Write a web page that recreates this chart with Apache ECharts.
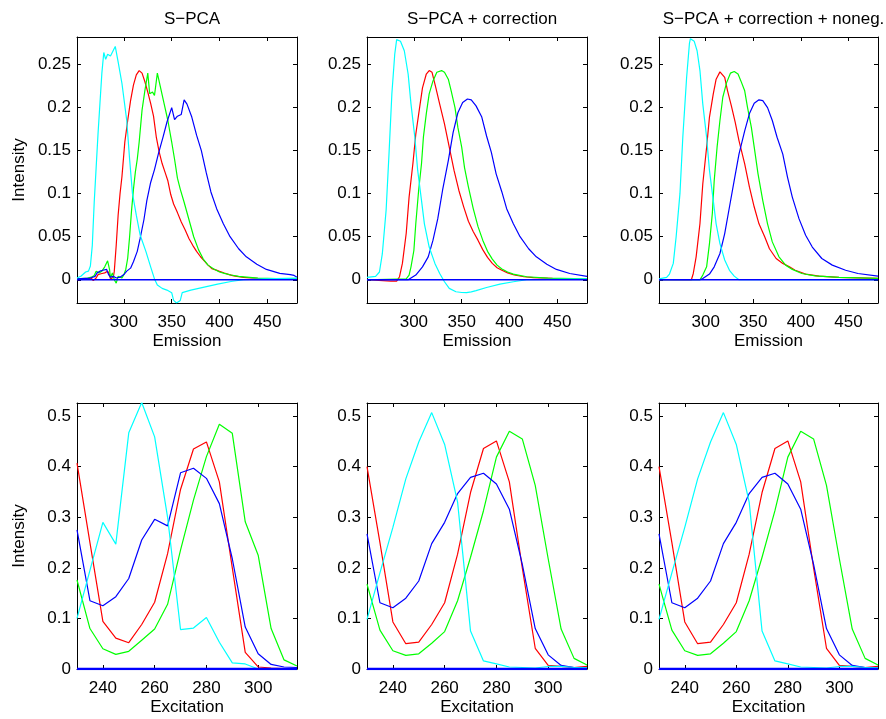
<!DOCTYPE html>
<html><head><meta charset="utf-8">
<script src="https://cdn.jsdelivr.net/npm/echarts@6/dist/echarts.min.js"></script>
<style>html,body{margin:0;padding:0;background:#fff}#c{width:886px;height:719px}</style>
</head><body><div id="c"></div>
<script>
const titles = ['S\u2212PCA', 'S\u2212PCA + correction', 'S\u2212PCA + correction + noneg.'];
const emRange = [251, 481];
const emYRange = [-0.027, 0.282];
const exRange = [230, 315];
const exYRange = [0, 0.526];
const emXTicks = [300, 350, 400, 450];
const emYTicks = [0, 0.05, 0.1, 0.15, 0.2, 0.25];
const exXTicks = [240, 260, 280, 300];
const exYTicks = [0, 0.1, 0.2, 0.3, 0.4, 0.5];

// Emission, S-PCA
const em1Red = [[251,0],[262,0.001],[266,0.002],[268,-0.001],[269,-0.003],[271,0.002],[273,0.006],[276,0.007],[280,0.008],[283,0.010],[285,0.006],[286,0.001],[288,0.001],[289,0.003],[290,0.01],[292,0.04],[294,0.075],[296,0.1],[298,0.12],[301,0.16],[304,0.185],[307,0.208],[310,0.226],[313,0.238],[316,0.243],[319,0.24],[322,0.23],[325,0.218],[328,0.205],[331,0.19],[334,0.165],[337,0.148],[340,0.135],[343,0.125],[346,0.115],[349,0.099],[352,0.088],[356,0.078],[360,0.067],[364,0.058],[368,0.048],[372,0.04],[376,0.033],[380,0.027],[384,0.022],[388,0.017],[392,0.013],[396,0.0115],[400,0.0098],[405,0.0078],[410,0.006],[415,0.0046],[425,0.0028],[440,0.0015],[460,0.001],[481,0.0005]];
const em1Green = [[251,0.001],[262,0.002],[266,0.003],[269,0.005],[271,0.01],[274,0.008],[277,0.010],[280,0.015],[283,0.022],[285,0.012],[286,0.002],[288,0.008],[290,0.0],[292,-0.004],[294,0.004],[296,0.005],[298,0.002],[300,0.006],[302,0.012],[304,0.025],[306,0.05],[308,0.08],[310,0.105],[312,0.125],[314,0.14],[316,0.16],[319,0.197],[322,0.22],[325,0.24],[327,0.216],[330,0.218],[332,0.214],[335,0.24],[338,0.225],[342,0.205],[346,0.185],[350,0.16],[353,0.14],[356,0.118],[359,0.105],[363,0.09],[368,0.07],[373,0.05],[378,0.035],[383,0.024],[388,0.017],[394,0.0125],[400,0.009],[405,0.0075],[412,0.0055],[420,0.004],[440,0.0018],[460,0.0012],[481,0.001]];
const em1Blue = [[251,0.001],[265,0.002],[270,0.004],[272,0.008],[275,0.010],[278,0.011],[282,0.012],[284,0.006],[286,0.003],[289,0.004],[292,0.002],[296,0.003],[300,0.006],[303,0.01],[307,0.0135],[310,0.021],[314,0.033],[317,0.048],[321,0.07],[324,0.092],[328,0.113],[332,0.128],[336,0.146],[341,0.166],[345,0.183],[350,0.2],[353,0.186],[356,0.19],[360,0.192],[363,0.209],[366,0.204],[371,0.189],[376,0.168],[381,0.15],[386,0.125],[391,0.102],[397,0.0826],[404,0.065],[411,0.05],[420,0.036],[428,0.0266],[439,0.018],[449,0.012],[463,0.0075],[474,0.006],[478,0.005],[481,0.003]];
const em1Cyan = [[251,0.002],[255,0.004],[257,0.002],[260,0.009],[263,0.010],[265,0.016],[267,0.04],[269,0.09],[271,0.13],[273,0.17],[275,0.205],[277,0.24],[279,0.264],[281,0.256],[283,0.262],[286,0.26],[288,0.258],[291,0.271],[294,0.253],[298,0.228],[303,0.185],[306,0.14],[309,0.1],[313,0.075],[317,0.052],[323,0.033],[328,0.015],[332,0.001],[335,-0.006],[340,-0.010],[345,-0.012],[350,-0.015],[352,-0.024],[355,-0.027],[357,-0.027],[359,-0.024],[361,-0.015],[370,-0.012],[384,-0.0085],[398,-0.005],[412,-0.002],[425,0],[446,0.001],[481,0.002]];

// Emission, S-PCA + correction
const em2Red = [[251,0],[276,-0.0015],[282,-0.0015],[285,0.0035],[288,0.019],[292,0.054],[295,0.096],[299,0.135],[302,0.169],[306,0.2],[309,0.223],[313,0.239],[316,0.243],[319,0.241],[323,0.223],[327,0.204],[332,0.181],[337,0.154],[342,0.127],[347,0.104],[352,0.085],[357,0.068],[362,0.056],[367,0.046],[372,0.035],[377,0.026],[382,0.019],[387,0.014],[392,0.011],[398,0.008],[405,0.0055],[415,0.0035],[425,0.0025],[445,0.0015],[481,0.001]];
const em2Green = [[251,0],[292,0.001],[295,0.0054],[297,0.015],[300,0.034],[302,0.065],[305,0.104],[308,0.135],[310,0.166],[313,0.193],[316,0.216],[320,0.231],[324,0.241],[329,0.243],[332,0.241],[336,0.233],[339,0.2195],[343,0.2],[346,0.177],[350,0.154],[353,0.13],[357,0.108],[362,0.083],[367,0.062],[372,0.046],[377,0.033],[382,0.024],[387,0.017],[392,0.0125],[398,0.009],[404,0.0065],[418,0.0035],[440,0.002],[481,0.001]];
const em2Blue = [[251,0],[294,0],[302,0.0054],[309,0.015],[315,0.0266],[320,0.046],[325,0.071],[330,0.104],[336,0.1385],[341,0.171],[346,0.194],[351,0.206],[356,0.21],[360,0.209],[365,0.202],[371,0.189],[376,0.167],[381,0.148],[386,0.123],[392,0.102],[397,0.0826],[404,0.065],[411,0.05],[420,0.036],[428,0.0266],[439,0.018],[449,0.012],[463,0.0073],[481,0.004]];
const em2Cyan = [[251,0.0027],[260,0.004],[264,0.009],[267,0.03],[271,0.081],[274,0.146],[277,0.216],[280,0.262],[282,0.279],[284,0.279],[286,0.277],[288,0.275],[290,0.266],[294,0.239],[297,0.204],[301,0.1655],[304,0.127],[308,0.092],[311,0.065],[316,0.038],[322,0.019],[327,0.0073],[332,-0.0023],[337,-0.01],[344,-0.0139],[350,-0.0148],[355,-0.015],[360,-0.014],[365,-0.0127],[376,-0.009],[390,-0.005],[404,-0.0023],[418,0],[440,0.0005],[481,0.001]];

// Emission, S-PCA + correction + noneg.
const em3Red = [[251,0],[285,0],[287,0.0073],[290,0.0266],[294,0.065],[297,0.1115],[301,0.154],[304,0.189],[308,0.216],[311,0.233],[315,0.2415],[317,0.2415],[320,0.235],[323,0.2195],[327,0.202],[331,0.183],[335,0.1617],[341,0.1346],[346,0.1076],[351,0.0845],[356,0.065],[362,0.05],[367,0.036],[374,0.0247],[381,0.019],[388,0.015],[394,0.011],[405,0.0066],[419,0.0042],[440,0.0027],[481,0.0015]];
const em3Green = [[251,0],[294,0],[297,0.0054],[301,0.015],[304,0.042],[307,0.077],[309,0.1155],[312,0.154],[315,0.185],[318,0.212],[322,0.229],[326,0.24],[330,0.242],[334,0.239],[337,0.231],[341,0.2195],[344,0.2],[348,0.177],[351,0.154],[355,0.123],[360,0.092],[365,0.065],[370,0.044],[377,0.0266],[384,0.017],[391,0.012],[401,0.0073],[415,0.0046],[440,0.0027],[481,0.0015]];
const em3Blue = [[251,0],[294,0],[297,0.0015],[304,0.0066],[309,0.015],[315,0.0305],[320,0.0536],[325,0.0845],[330,0.1155],[335,0.146],[341,0.173],[346,0.193],[351,0.205],[356,0.209],[360,0.208],[365,0.2],[370,0.185],[375,0.1655],[381,0.146],[386,0.119],[391,0.096],[398,0.071],[405,0.0517],[412,0.038],[422,0.0247],[433,0.017],[447,0.011],[460,0.0073],[481,0.0042]];
const em3Cyan = [[251,0.001],[259,0.0027],[262,0.0066],[266,0.019],[269,0.05],[273,0.1],[276,0.1655],[280,0.235],[283,0.275],[284,0.28],[286,0.279],[288,0.277],[291,0.266],[294,0.243],[297,0.204],[301,0.1655],[304,0.127],[308,0.092],[311,0.065],[315,0.042],[320,0.023],[325,0.011],[330,0.0042],[335,0],[481,0]];

// Excitation
const exX = [230,235,240,245,250,255,260,265,270,275,280,285,290,295,300,305,310,315];
const ex1Red   = [0.407,0.25,0.094,0.061,0.052,0.088,0.132,0.228,0.355,0.435,0.449,0.370,0.20,0.033,0.004,0.002,0.001,0];
const ex1Green = [0.176,0.080,0.040,0.029,0.035,0.057,0.079,0.128,0.235,0.334,0.42,0.484,0.466,0.291,0.225,0.080,0.018,0.006];
const ex1Blue  = [0.275,0.135,0.125,0.143,0.179,0.255,0.296,0.283,0.388,0.397,0.377,0.327,0.218,0.083,0.030,0.009,0.004,0.003];
const ex1Cyan  = [0.10,0.195,0.29,0.247,0.467,0.527,0.459,0.30,0.078,0.081,0.102,0.053,0.012,0.010,0,0,0,0];
const ex2Red   = [0.40,0.25,0.093,0.050,0.053,0.088,0.131,0.227,0.349,0.436,0.451,0.370,0.20,0.041,0.007,0.005,0.003,0.005];
const ex2Green = [0.168,0.077,0.036,0.027,0.030,0.051,0.074,0.135,0.221,0.313,0.419,0.470,0.455,0.363,0.218,0.079,0.021,0.008];
const ex2Blue  = [0.267,0.131,0.121,0.140,0.174,0.248,0.290,0.347,0.379,0.387,0.366,0.316,0.207,0.080,0.028,0.007,0.003,0.003];
const ex2Cyan  = [0.098,0.19,0.28,0.376,0.449,0.507,0.444,0.33,0.075,0.016,0.010,0.004,0.003,0.002,0.005,0.005,0.003,0.003];
const ex3Red = ex2Red, ex3Green = ex2Green, ex3Blue = ex2Blue, ex3Cyan = ex2Cyan;

const colors = {red:'#ff0000', green:'#00ff00', blue:'#0000ff', cyan:'#00ffff'};
const FONT = "'Liberation Sans', Arial, Helvetica, sans-serif";
const FS = 17;

const pair = (xs, ys) => xs.map((x, i) => [x, ys[i]]);
const panels = [
  {row:0, col:0, sets:{red:em1Red, green:em1Green, blue:em1Blue, cyan:em1Cyan}},
  {row:0, col:1, sets:{red:em2Red, green:em2Green, blue:em2Blue, cyan:em2Cyan}},
  {row:0, col:2, sets:{red:em3Red, green:em3Green, blue:em3Blue, cyan:em3Cyan}},
  {row:1, col:0, sets:{red:pair(exX,ex1Red), green:pair(exX,ex1Green), blue:pair(exX,ex1Blue), cyan:pair(exX,ex1Cyan)}},
  {row:1, col:1, sets:{red:pair(exX,ex2Red), green:pair(exX,ex2Green), blue:pair(exX,ex2Blue), cyan:pair(exX,ex2Cyan)}},
  {row:1, col:2, sets:{red:pair(exX,ex3Red), green:pair(exX,ex3Green), blue:pair(exX,ex3Blue), cyan:pair(exX,ex3Cyan)}}
];
const cols = [{left:77, width:220}, {left:367, width:220}, {left:659, width:219}];
const rows = [{top:37, height:266}, {top:403, height:266}];

const grid = [], xAxis = [], yAxis = [], series = [], title = [];
titles.forEach((t, c) => title.push({text:t, left: cols[c].left + cols[c].width/2, top: 6, textAlign:'center',
  textStyle:{fontSize:FS, fontWeight:'normal', color:'#000', fontFamily:FONT}}));

const tickStyle = {inside:true, length:4, lineStyle:{color:'#000', width:1}};
const lineAx = {show:true, onZero:false, lineStyle:{color:'#000', width:1}};
panels.forEach((p, i) => {
  grid.push({left: cols[p.col].left, width: cols[p.col].width, top: rows[p.row].top, height: rows[p.row].height, containLabel:false});
  const isEm = p.row === 0;
  const xr = isEm ? emRange : exRange, yr = isEm ? emYRange : exYRange;
  const xt = isEm ? emXTicks : exXTicks, yt = isEm ? emYTicks : exYTicks;
  const base = {type:'value', gridIndex:i, splitLine:{show:false}, axisLine:lineAx};
  xAxis.push(Object.assign({}, base, {position:'bottom', min:xr[0], max:xr[1],
    axisTick:Object.assign({customValues:xt}, tickStyle),
    axisLabel:{customValues:xt, color:'#000', fontSize:FS, fontFamily:FONT, margin:11, formatter: v => String(v)},
    name: isEm ? 'Emission' : 'Excitation', nameLocation:'middle', nameGap:30,
    nameTextStyle:{color:'#000', fontSize:FS, fontFamily:FONT}}));
  xAxis.push(Object.assign({}, base, {position:'top', min:xr[0], max:xr[1],
    axisTick:Object.assign({customValues:xt}, tickStyle), axisLabel:{show:false, customValues:xt}}));
  yAxis.push(Object.assign({}, base, {position:'left', min:yr[0], max:yr[1],
    axisTick:Object.assign({customValues:yt}, tickStyle),
    axisLabel:{customValues:yt, color:'#000', fontSize:FS, fontFamily:FONT, margin:6, formatter: v => String(v)},
    name: p.col === 0 ? 'Intensity' : '', nameLocation:'middle', nameGap:49,
    nameTextStyle:{color:'#000', fontSize:FS, fontFamily:FONT}}));
  yAxis.push(Object.assign({}, base, {position:'right', min:yr[0], max:yr[1],
    axisTick:Object.assign({customValues:yt}, tickStyle), axisLabel:{show:false, customValues:yt}}));
  ['red','green','blue','cyan'].forEach(k => {
    series.push({type:'line', xAxisIndex:2*i, yAxisIndex:2*i, data:p.sets[k], symbol:'none', showSymbol:false,
      lineStyle:{color:colors[k], width:1.2}, itemStyle:{color:colors[k]}, silent:true, z:3});
  });
  series.push({type:'line', xAxisIndex:2*i, yAxisIndex:2*i, data:[[xr[0],0],[xr[1],0]], symbol:'none',
    lineStyle:{color:colors.blue, width: isEm ? 1.6 : 2.5}, silent:true, z:4});
});

const chart = echarts.init(document.getElementById('c'), null, {renderer:'canvas'});
chart.setOption({animation:false, backgroundColor:'#fff', title, grid, xAxis, yAxis, series});
</script></body></html>
